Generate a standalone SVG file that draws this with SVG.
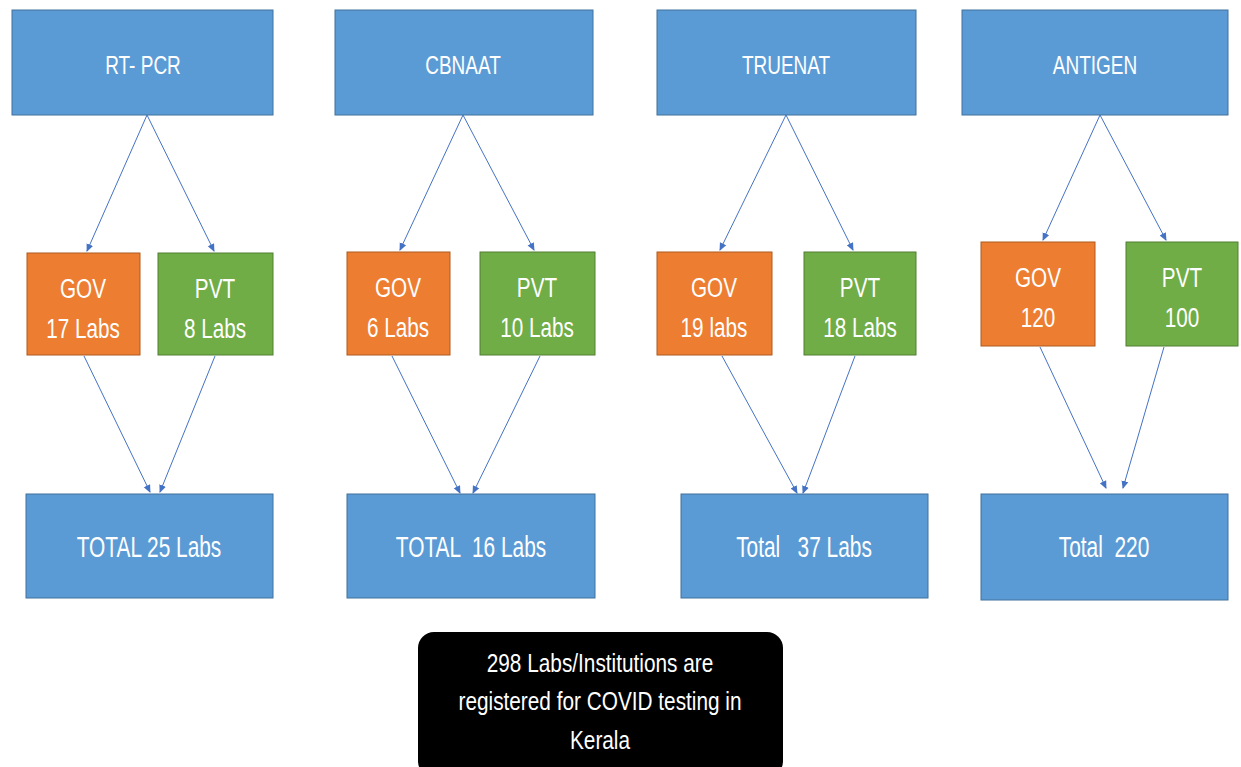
<svg xmlns="http://www.w3.org/2000/svg" width="1241" height="767" viewBox="0 0 1241 767">
<defs>
<marker id="ah" markerWidth="8" markerHeight="8" refX="7" refY="4" orient="auto" markerUnits="userSpaceOnUse">
<path d="M0,0.5 L8,4 L0,7.5 Z" fill="#4472C4"/>
</marker>
<style>
.blue{fill:#5B9BD5;stroke:#41719C;stroke-width:1}
.gov{fill:#ED7D31;stroke:#AE5A21;stroke-width:1}
.pvt{fill:#70AD47;stroke:#507E32;stroke-width:1}
.t{font-family:"Liberation Sans",Arial,sans-serif;fill:#FFFFFF;text-anchor:middle}
.h{font-size:25px}
.m{font-size:28px}
.b{font-size:29px}
.s{font-size:26px}
.c{stroke:#4472C4;stroke-width:1;fill:none;marker-end:url(#ah)}
</style>
</defs>
<rect width="1241" height="767" fill="#FFFFFF"/>
<g id="connectors">
<line class="c" x1="147" y1="115" x2="87" y2="251"/>
<line class="c" x1="147" y1="115" x2="214" y2="251"/>
<line class="c" x1="84" y1="356" x2="150" y2="492"/>
<line class="c" x1="215" y1="356" x2="160" y2="492"/>
<line class="c" x1="463" y1="115" x2="400" y2="250"/>
<line class="c" x1="463" y1="115" x2="534" y2="250"/>
<line class="c" x1="392" y1="356" x2="460" y2="493"/>
<line class="c" x1="540" y1="356" x2="473" y2="493"/>
<line class="c" x1="786" y1="115" x2="720" y2="250"/>
<line class="c" x1="786" y1="115" x2="853" y2="250"/>
<line class="c" x1="722" y1="356" x2="797" y2="493"/>
<line class="c" x1="855" y1="356" x2="803" y2="493"/>
<line class="c" x1="1100" y1="115" x2="1043" y2="240"/>
<line class="c" x1="1100" y1="115" x2="1166" y2="240"/>
<line class="c" x1="1040" y1="347" x2="1106" y2="488"/>
<line class="c" x1="1164" y1="347" x2="1123" y2="488"/>
</g>
<g id="rtpcr"><rect class="blue" x="12" y="10" width="261" height="105"/><text class="t h" transform="translate(143,74) scale(0.76,1)">RT- PCR</text></g>
<g id="cbnaat"><rect class="blue" x="335" y="10" width="258" height="105"/><text class="t h" transform="translate(463,74) scale(0.76,1)">CBNAAT</text></g>
<g id="truenat"><rect class="blue" x="657" y="10" width="259" height="105"/><text class="t h" transform="translate(786,74) scale(0.76,1)">TRUENAT</text></g>
<g id="antigen"><rect class="blue" x="962" y="10" width="266" height="105"/><text class="t h" transform="translate(1095,74) scale(0.76,1)">ANTIGEN</text></g>
<g id="gov1"><rect class="gov" x="27" y="253" width="113" height="102"/><text class="t m" transform="translate(83,298) scale(0.74,1)">GOV</text><text class="t m" transform="translate(83,338) scale(0.74,1)">17 Labs</text></g>
<g id="pvt1"><rect class="pvt" x="158" y="253" width="115" height="102"/><text class="t m" transform="translate(215,298) scale(0.74,1)">PVT</text><text class="t m" transform="translate(215,338) scale(0.74,1)">8 Labs</text></g>
<g id="gov2"><rect class="gov" x="347" y="252" width="103" height="103"/><text class="t m" transform="translate(398,297) scale(0.74,1)">GOV</text><text class="t m" transform="translate(398,337) scale(0.74,1)">6 Labs</text></g>
<g id="pvt2"><rect class="pvt" x="480" y="252" width="115" height="103"/><text class="t m" transform="translate(537,297) scale(0.74,1)">PVT</text><text class="t m" transform="translate(537,337) scale(0.74,1)">10 Labs</text></g>
<g id="gov3"><rect class="gov" x="657" y="252" width="115" height="103"/><text class="t m" transform="translate(714,297) scale(0.74,1)">GOV</text><text class="t m" transform="translate(714,337) scale(0.74,1)">19 labs</text></g>
<g id="pvt3"><rect class="pvt" x="804" y="252" width="112" height="103"/><text class="t m" transform="translate(860,297) scale(0.74,1)">PVT</text><text class="t m" transform="translate(860,337) scale(0.74,1)">18 Labs</text></g>
<g id="gov4"><rect class="gov" x="981" y="242" width="114" height="104"/><text class="t m" transform="translate(1038,287) scale(0.74,1)">GOV</text><text class="t m" transform="translate(1038,327) scale(0.74,1)">120</text></g>
<g id="pvt4"><rect class="pvt" x="1126" y="242" width="112" height="104"/><text class="t m" transform="translate(1182,287) scale(0.74,1)">PVT</text><text class="t m" transform="translate(1182,327) scale(0.74,1)">100</text></g>
<g id="total1"><rect class="blue" x="26" y="494" width="247" height="104"/><text class="t b" transform="translate(149,557) scale(0.72,1)">TOTAL 25 Labs</text></g>
<g id="total2"><rect class="blue" x="347" y="494" width="248" height="104"/><text class="t b" transform="translate(471,557) scale(0.72,1)" xml:space="preserve">TOTAL  16 Labs</text></g>
<g id="total3"><rect class="blue" x="681" y="494" width="247" height="104"/><text class="t b" transform="translate(804,557) scale(0.72,1)" xml:space="preserve">Total   37 Labs</text></g>
<g id="total4"><rect class="blue" x="981" y="494" width="247" height="106"/><text class="t b" transform="translate(1104,557) scale(0.72,1)" xml:space="preserve">Total  220</text></g>
<g id="summary"><rect x="418" y="632" width="365" height="145" rx="16" fill="#000000"/>
<text class="t s" transform="translate(600,672) scale(0.8,1)">298 Labs/Institutions are</text>
<text class="t s" transform="translate(600,710) scale(0.8,1)">registered for COVID testing in</text>
<text class="t s" transform="translate(600,749) scale(0.8,1)">Kerala</text></g>
</svg>
